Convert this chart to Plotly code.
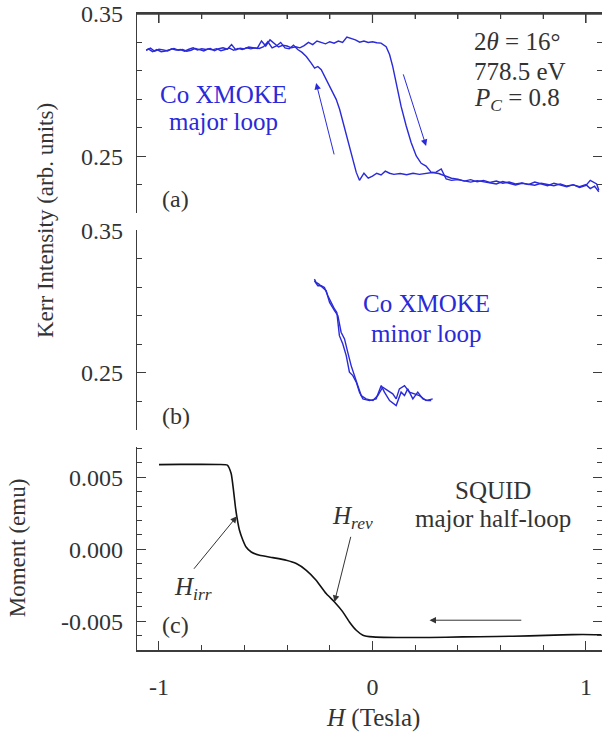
import plotly.graph_objects as go

# ---------------- data ----------------
# Panel (a): Co XMOKE major loop, branch swept toward +H
a_up_H = [-1.06, -1.04, -1.02, -1.00, -0.98, -0.96, -0.94, -0.92, -0.90, -0.88, -0.86, -0.84,
          -0.82, -0.80, -0.78, -0.76, -0.74, -0.72, -0.70, -0.68, -0.66, -0.64, -0.62, -0.60,
          -0.58, -0.56, -0.54, -0.52, -0.50, -0.48, -0.46, -0.44, -0.42, -0.40, -0.38, -0.36,
          -0.34, -0.32, -0.30, -0.28, -0.26, -0.24, -0.22, -0.20, -0.18, -0.16, -0.14, -0.12,
          -0.10, -0.08, -0.06, -0.04, -0.02, 0.00, 0.02, 0.04, 0.064, 0.08, 0.095, 0.111,
          0.134, 0.158, 0.181, 0.205, 0.228, 0.251, 0.275, 0.298, 0.322, 0.345, 0.37, 0.40,
          0.43, 0.46, 0.49, 0.52, 0.55, 0.58, 0.61, 0.64, 0.67, 0.70, 0.73, 0.76, 0.79, 0.82,
          0.85, 0.88, 0.91, 0.94, 0.97, 1.00, 1.02, 1.04, 1.06]
a_up_I = [0.3245, 0.3260, 0.3238, 0.3252, 0.3248, 0.3240, 0.3255, 0.3246, 0.3250, 0.3238, 0.3252, 0.3262,
          0.3247, 0.3255, 0.3250, 0.3258, 0.3242, 0.3256, 0.3262, 0.3252, 0.3285, 0.3248, 0.3260, 0.3255,
          0.3268, 0.3262, 0.3258, 0.3310, 0.3275, 0.3318, 0.3290, 0.3268, 0.3280, 0.3275, 0.3262, 0.3270,
          0.3262, 0.3278, 0.3300, 0.3285, 0.3310, 0.3300, 0.3290, 0.3305, 0.3295, 0.3310, 0.3300, 0.3338,
          0.3330, 0.3318, 0.3302, 0.3310, 0.3300, 0.3305, 0.3298, 0.3295, 0.3270, 0.3215, 0.3130, 0.3015,
          0.2850, 0.2712, 0.2596, 0.2502, 0.2450, 0.2430, 0.2386, 0.2388, 0.2410, 0.2340, 0.2330, 0.2335,
          0.2325, 0.2318, 0.2328, 0.2320, 0.2310, 0.2305, 0.2322, 0.2308, 0.2298, 0.2310, 0.2302, 0.2296,
          0.2310, 0.2300, 0.2292, 0.2305, 0.2290, 0.2298, 0.2285, 0.2300, 0.2272, 0.2290, 0.2250]

# Panel (a): branch swept back toward -H
a_dn_H = [1.06, 1.05, 1.02, 1.00, 0.97, 0.94, 0.91, 0.88, 0.85, 0.82, 0.79, 0.76, 0.73, 0.70,
          0.67, 0.64, 0.61, 0.58, 0.55, 0.52, 0.49, 0.46, 0.43, 0.40, 0.37, 0.34, 0.31, 0.28,
          0.25, 0.22, 0.19, 0.16, 0.13, 0.10, 0.08, 0.06, 0.04, 0.02, 0.00, -0.02, -0.04, -0.061,
          -0.076, -0.092, -0.107, -0.123, -0.139, -0.154, -0.170, -0.193, -0.217, -0.240, -0.256,
          -0.271, -0.287, -0.310, -0.33, -0.35, -0.37, -0.39, -0.41, -0.43, -0.45, -0.47, -0.49,
          -0.51, -0.53, -0.55, -0.57, -0.59, -0.61, -0.63, -0.65, -0.67, -0.69, -0.71, -0.73,
          -0.75, -0.77, -0.79, -0.81, -0.83, -0.85, -0.87, -0.89, -0.91, -0.93, -0.95, -0.97,
          -0.99, -1.01, -1.03, -1.05, -1.06]
a_dn_I = [0.2262, 0.2305, 0.2330, 0.2295, 0.2280, 0.2300, 0.2285, 0.2300, 0.2310, 0.2292, 0.2305, 0.2318,
          0.2300, 0.2312, 0.2305, 0.2318, 0.2310, 0.2325, 0.2315, 0.2330, 0.2320, 0.2335, 0.2325, 0.2338,
          0.2345, 0.2360, 0.2378, 0.2385, 0.2378, 0.2372, 0.2380, 0.2370, 0.2378, 0.2372, 0.2380, 0.2395,
          0.2368, 0.2380, 0.2360, 0.2345, 0.2380, 0.2330, 0.2386, 0.2479, 0.2570, 0.2660, 0.2759, 0.2830,
          0.2900, 0.2970, 0.3040, 0.3108, 0.3131, 0.3120, 0.3155, 0.3201, 0.3230, 0.3250, 0.3280, 0.3255,
          0.3262, 0.3300, 0.3275, 0.3262, 0.3305, 0.3270, 0.3258, 0.3262, 0.3255, 0.3262, 0.3250, 0.3258,
          0.3245, 0.3260, 0.3250, 0.3242, 0.3256, 0.3248, 0.3254, 0.3240, 0.3250, 0.3258, 0.3245, 0.3238,
          0.3250, 0.3245, 0.3258, 0.3248, 0.3240, 0.3235, 0.3250, 0.3235, 0.3255, 0.3245]

# Panel (b): Co XMOKE minor loop
b_ret_H = [0.282, 0.251, 0.220, 0.197, 0.173, 0.150, 0.126, 0.111, 0.095, 0.072, 0.048, 0.025,
           0.002, -0.030, -0.053, -0.069, -0.084, -0.100, -0.116, -0.131, -0.147, -0.162, -0.178,
           -0.201, -0.217, -0.233, -0.251, -0.264, -0.272]
b_ret_I = [0.2318, 0.2306, 0.2341, 0.2353, 0.2365, 0.2411, 0.2388, 0.2318, 0.2353, 0.2376, 0.2400, 0.2341,
           0.2306, 0.2318, 0.2341, 0.2411, 0.2481, 0.2551, 0.2645, 0.2738, 0.2785, 0.2901, 0.2936,
           0.2994, 0.3076, 0.3099, 0.3122, 0.3134, 0.3157]
b_out_H = [-0.272, -0.256, -0.240, -0.225, -0.209, -0.194, -0.178, -0.167, -0.155, -0.139, -0.123, -0.108,
           -0.092, -0.076, -0.061, -0.045, -0.014, 0.017, 0.041, 0.056, 0.080, 0.111, 0.134, 0.150,
           0.165, 0.189, 0.212, 0.236, 0.259, 0.275]
b_out_I = [0.3146, 0.3111, 0.3111, 0.3099, 0.3041, 0.2994, 0.2948, 0.2924, 0.2761, 0.2703, 0.2621, 0.2505,
           0.2481, 0.2435, 0.2365, 0.2318, 0.2306, 0.2318, 0.2411, 0.2365, 0.2306, 0.2271, 0.2365, 0.2341,
           0.2388, 0.2318, 0.2365, 0.2318, 0.2306, 0.2306]

# Panel (c): SQUID major half-loop
c_H = [-1.00, -0.90, -0.80, -0.72, -0.68, -0.662, -0.651, -0.642, -0.635, -0.623, -0.607, -0.592,
       -0.568, -0.529, -0.467, -0.404, -0.357, -0.310, -0.264, -0.217, -0.178, -0.139, -0.108,
       -0.076, -0.045, 0.002, 0.111, 0.267, 0.423, 0.579, 0.735, 0.891, 0.984, 1.072]
c_M = [0.00588, 0.00590, 0.00590, 0.00589, 0.00585, 0.00526, 0.00410, 0.00294, 0.00224, 0.00132,
       0.00063, 0.00016, -0.00019, -0.00042, -0.00058, -0.00076, -0.00099, -0.00146, -0.00215,
       -0.00308, -0.00366, -0.00435, -0.00505, -0.00563, -0.00597, -0.00609, -0.00613, -0.00613,
       -0.00609, -0.00606, -0.00602, -0.00595, -0.00592, -0.00594]

x_tickvals = [-1, 0, 1]
x_minor_tickvals = [-0.8, -0.6, -0.4, -0.2, 0.2, 0.4, 0.6, 0.8]
x_ticktext = ["-1", "0", "1"]
kerr_tickvals = [0.25, 0.35]
kerr_ticktext = ["0.25", "0.35"]
m_tickvals = [-0.005, 0.0, 0.005]
m_ticktext = ["-0.005", "0.000", "0.005"]

# ---------------- style ----------------
BLUE = "#2a2ad8"
DARK = "#333333"
AX = "#3c3c3c"
FONT = "Liberation Serif"
XR = [-1.103, 1.075]

fig = go.Figure()
line_b = dict(color=BLUE, width=1.4)
fig.add_trace(go.Scatter(x=a_up_H, y=a_up_I, mode="lines", line=line_b, xaxis="x", yaxis="y"))
fig.add_trace(go.Scatter(x=a_dn_H, y=a_dn_I, mode="lines", line=line_b, xaxis="x", yaxis="y"))
fig.add_trace(go.Scatter(x=b_ret_H, y=b_ret_I, mode="lines", line=line_b, xaxis="x2", yaxis="y2"))
fig.add_trace(go.Scatter(x=b_out_H, y=b_out_I, mode="lines", line=line_b, xaxis="x2", yaxis="y2"))
fig.add_trace(go.Scatter(x=c_H, y=c_M, mode="lines", line=dict(color="#111111", width=1.6, shape="spline", smoothing=0.5),
                         xaxis="x3", yaxis="y3"))

tickfont = dict(family=FONT, size=24, color=DARK)
xcommon = dict(range=XR, tickvals=x_tickvals, ticks="inside", ticklen=9, tickcolor=AX, tickwidth=1.2,
               minor=dict(tickvals=x_minor_tickvals, ticks="inside", ticklen=5, tickcolor=AX),
               showgrid=False, zeroline=False, linecolor=AX, linewidth=1.5, automargin=False)
ycommon = dict(ticks="inside", ticklen=9, tickcolor=AX, tickwidth=1.2, showgrid=False, zeroline=False,
               showline=True, linecolor=AX, linewidth=1.3, mirror="ticks", tickfont=tickfont,
               ticklabelstandoff=8, automargin=False)

fig.update_layout(
    width=602, height=742,
    margin=dict(l=137, r=0, t=14, b=92),
    paper_bgcolor="white", plot_bgcolor="white",
    showlegend=False,
    font=dict(family=FONT, color=DARK),
    xaxis=dict(**xcommon, domain=[0, 1], anchor="y", side="top", showline=True, showticklabels=False),
    xaxis2=dict(range=XR, domain=[0, 1], anchor="y2", visible=False, matches="x", automargin=False),
    xaxis3=dict(**xcommon, domain=[0, 1], anchor="y3", side="bottom", showline=True, matches="x",
                ticktext=x_ticktext, tickfont=tickfont, ticklabelstandoff=14),
    yaxis=dict(**ycommon, domain=[0.687, 1.0], anchor="x", range=[0.21, 0.35],
               tickvals=kerr_tickvals, ticktext=kerr_ticktext,
               minor=dict(dtick=0.02, tick0=0.25, ticks="inside", ticklen=5, tickcolor=AX)),
    yaxis2=dict(**ycommon, domain=[0.346, 0.660], anchor="x2", range=[0.21, 0.35],
                tickvals=kerr_tickvals, ticktext=kerr_ticktext,
                minor=dict(dtick=0.02, tick0=0.25, ticks="inside", ticklen=5, tickcolor=AX)),
    yaxis3=dict(**ycommon, domain=[0.0, 0.319], anchor="x3", range=[-0.007, 0.0071],
                tickvals=m_tickvals, ticktext=m_ticktext,
                minor=dict(dtick=0.001, tick0=0, ticks="inside", ticklen=5, tickcolor=AX)),
)

# top frame of panel (a) with its inward ticks (drawn explicitly so it is always visible)
fig.add_shape(type="line", xref="x domain", yref="y domain", x0=0, x1=1, y0=1, y1=1,
              line=dict(color=AX, width=1.5), layer="above")
for tv, tl in [(v, 9) for v in x_tickvals] + [(v, 5) for v in x_minor_tickvals]:
    fig.add_shape(type="line", xref="x", yref="y domain", x0=tv, x1=tv,
                  ysizemode="pixel", yanchor=1, y0=0, y1=-tl,
                  line=dict(color=AX, width=1.2), layer="above")

def txt(x, y, text, xr, yr, size=25, color=DARK, xanchor="center"):
    fig.add_annotation(x=x, y=y, xref=xr, yref=yr, text=text, showarrow=False,
                       font=dict(family=FONT, size=size, color=color), xanchor=xanchor, yanchor="middle")

def arrow(x0, y0, x1, y1, xr, yr, color):
    fig.add_annotation(x=x1, y=y1, ax=x0, ay=y0, xref=xr, yref=yr, axref=xr, ayref=yr, text="",
                       showarrow=True, arrowhead=2, arrowsize=1.3, arrowwidth=1, arrowcolor=color, standoff=0)

# panel (a)
txt(-0.70, 0.2934, "Co XMOKE", "x", "y", color=BLUE)
txt(-0.70, 0.2745, "major loop", "x", "y", color=BLUE)
txt(0.468, 0.3305, "2<i>θ</i> = 16°", "x", "y", xanchor="left")
txt(0.468, 0.3095, "778.5 eV", "x", "y", xanchor="left")
txt(0.468, 0.2900, "<i>P</i><sub><i>C</i></sub> = 0.8", "x", "y", xanchor="left")
txt(-0.922, 0.2199, "(a)", "x", "y", size=24)
arrow(0.142, 0.3086, 0.251, 0.2572, "x", "y", BLUE)
arrow(-0.178, 0.2502, -0.264, 0.3015, "x", "y", BLUE)

# panel (b)
txt(0.251, 0.2983, "Co XMOKE", "x2", "y2", color=BLUE)
txt(0.251, 0.2773, "minor loop", "x2", "y2", color=BLUE)
txt(-0.922, 0.2201, "(b)", "x2", "y2", size=24)

# panel (c)
txt(0.564, 0.0041, "SQUID", "x3", "y3")
txt(0.564, 0.00215, "major half-loop", "x3", "y3")
txt(-0.843, -0.0027, "<i>H</i><sub><i>irr</i></sub>", "x3", "y3", size=25)
txt(-0.094, 0.00224, "<i>H</i><sub><i>rev</i></sub>", "x3", "y3", size=25)
txt(-0.922, -0.00528, "(c)", "x3", "y3", size=24)
arrow(-0.842, -0.00146, -0.635, 0.00229, "x3", "y3", "#333333")
arrow(-0.100, 0.00097, -0.178, -0.00366, "x3", "y3", "#333333")
arrow(0.704, -0.00493, 0.267, -0.00493, "x3", "y3", "#333333")

# axis titles
def title(x, y, text, angle, size):
    fig.add_annotation(x=x, y=y, xref="paper", yref="paper", text=text, textangle=angle,
                       showarrow=False, xanchor="center", yanchor="middle",
                       font=dict(family=FONT, size=size, color=DARK))

title(-0.198, 0.676, "Kerr Intensity (arb. units)", -90, 23)
title(-0.258, 0.160, "Moment (emu)", -90, 23)
title(0.5075, -0.107, "<i>H</i> (Tesla)", 0, 25)

# remove the browser's default 8 px body margin so the 602x742 figure fills the window
fig.write_html("out.html", config={"displayModeBar": False},
               post_script="document.body.style.margin='0px';document.body.style.overflow='hidden';")
